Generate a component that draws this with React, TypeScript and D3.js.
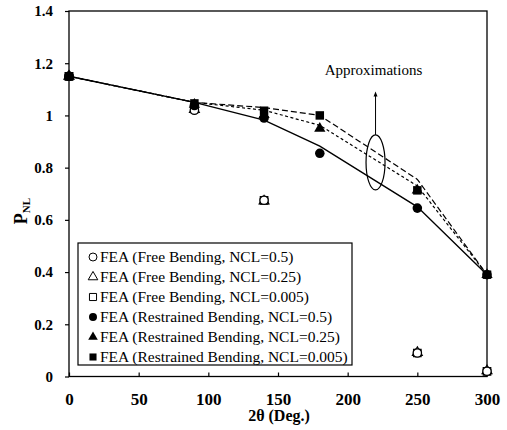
import * as d3 from 'd3'
import { useEffect, useRef } from 'react'

// 2θ values (degrees)
const angles = [0, 90, 140, 180, 250, 300]
const freeAngles = [0, 90, 140, 250, 300]

// FEA, free bending
const free05 = [1.15, 1.02, 0.675, 0.09, 0.02]
const free025 = [1.15, 1.022, 0.672, 0.092, 0.022]
const free0005 = [1.15, 1.025, 0.675, 0.09, 0.02]

// FEA, restrained bending
const restr05 = [1.15, 1.038, 0.99, 0.855, 0.645, 0.39]
const restr025 = [1.15, 1.042, 1.003, 0.95, 0.713, 0.39]
const restr0005 = [1.15, 1.046, 1.018, 1.0, 0.713, 0.39]

// approximation curves
const approxSolid = [1.15, 1.05, 0.982, 0.882, 0.65, 0.39]
const approxDotted = [1.15, 1.05, 1.02, 0.962, 0.73, 0.39]
const approxDashed = [1.15, 1.05, 1.03, 1.0, 0.755, 0.39]

const xTicks = [0, 50, 100, 150, 200, 250, 300]
const yTicks = [0, 0.2, 0.4, 0.6, 0.8, 1, 1.2, 1.4]

const legendLabels = [
    'FEA (Free Bending, NCL=0.5)',
    'FEA (Free Bending, NCL=0.25)',
    'FEA (Free Bending, NCL=0.005)',
    'FEA (Restrained Bending, NCL=0.5)',
    'FEA (Restrained Bending, NCL=0.25)',
    'FEA (Restrained Bending, NCL=0.005)',
]
const legendShapes = ['circle', 'triangle', 'square', 'circle', 'triangle', 'square']
const legendFilled = [false, false, false, true, true, true]

const FONT = '"Liberation Serif", "Times New Roman", serif'

export default function App() {
    const ref = useRef<SVGSVGElement>(null)

    useEffect(() => {
        const svg = d3.select(ref.current)
        svg.selectAll('*').remove()

        const x = d3.scaleLinear().domain([0, 300]).range([69, 487])
        const y = d3.scaleLinear().domain([0, 1.4]).range([376.5, 11])

        const symbolOf = (s: string, size: number) => {
            const t = s === 'circle' ? d3.symbolCircle : s === 'triangle' ? d3.symbolTriangle : d3.symbolSquare
            return d3.symbol().type(t).size(size)()
        }

        // frame
        svg.append('rect')
            .attr('x', x(0)).attr('y', y(1.4))
            .attr('width', x(300) - x(0)).attr('height', y(0) - y(1.4))
            .attr('fill', 'none').attr('stroke', '#000').attr('stroke-width', 1.3)

        // x axis
        const gx = svg.append('g')
            .attr('transform', `translate(0,${y(0)})`)
            .call(d3.axisBottom(x).tickValues(xTicks).tickSize(-4).tickPadding(16).tickSizeOuter(0))
        gx.select('.domain').remove()
        gx.selectAll('line').attr('stroke', '#000').attr('stroke-width', 1.2)
        gx.selectAll('text')
            .attr('font-family', FONT).attr('font-size', 17).attr('font-weight', 'bold').attr('fill', '#000')

        // y axis
        const gy = svg.append('g')
            .attr('transform', `translate(${x(0)},0)`)
            .call(d3.axisLeft(y).tickValues(yTicks).tickFormat(d3.format('~g')).tickSize(4).tickPadding(12).tickSizeOuter(0))
        gy.select('.domain').remove()
        gy.selectAll('line').attr('stroke', '#000').attr('stroke-width', 1.2)
        gy.selectAll('text')
            .attr('font-family', FONT).attr('font-size', 15).attr('font-weight', 'bold').attr('fill', '#000')

        // approximation lines
        const line = d3.line<number>().x((_, i) => x(angles[i])).y(d => y(d))
        const curves: [number[], string | null][] = [
            [approxSolid, null],
            [approxDotted, '3,2.5'],
            [approxDashed, '6,3'],
        ]
        curves.forEach(([vals, dash]) => {
            svg.append('path')
                .attr('d', line(vals))
                .attr('fill', 'none')
                .attr('stroke', '#000')
                .attr('stroke-width', dash ? 1.2 : 1.4)
                .attr('stroke-dasharray', dash)
        })

        // open markers (free bending)
        const freeSeries: [number[], string][] = [
            [free0005, 'square'], [free025, 'triangle'], [free05, 'circle'],
        ]
        freeSeries.forEach(([vals, shape]) => {
            svg.append('g').selectAll('path')
                .data(vals)
                .join('path')
                .attr('transform', (d, i) => `translate(${x(freeAngles[i])},${y(d)})`)
                .attr('d', symbolOf(shape, shape === 'triangle' ? 40 : 55))
                .attr('fill', '#fff').attr('stroke', '#000').attr('stroke-width', 1.3)
        })

        // filled markers (restrained bending)
        const restrSeries: [number[], string][] = [
            [restr05, 'circle'], [restr025, 'triangle'], [restr0005, 'square'],
        ]
        restrSeries.forEach(([vals, shape]) => {
            svg.append('g').selectAll('path')
                .data(vals)
                .join('path')
                .attr('transform', (d, i) => `translate(${x(angles[i])},${y(d)})`)
                .attr('d', symbolOf(shape, shape === 'triangle' ? 55 : 72))
                .attr('fill', '#000')
        })

        // annotation
        const ex = x(220), ey = y(0.82)
        svg.append('ellipse')
            .attr('cx', ex).attr('cy', ey).attr('rx', 9.5).attr('ry', 27.5)
            .attr('fill', 'none').attr('stroke', '#000').attr('stroke-width', 1.2)
        svg.append('line')
            .attr('x1', ex).attr('x2', ex).attr('y1', ey - 27.5).attr('y2', y(1.08))
            .attr('stroke', '#000').attr('stroke-width', 1)
        svg.append('path')
            .attr('d', `M${ex},${y(1.08) - 3} l-2,5 l4,0 z`)
            .attr('fill', '#000')
        svg.append('text')
            .attr('x', ex - 2).attr('y', y(1.155))
            .attr('text-anchor', 'middle')
            .attr('font-family', FONT).attr('font-size', 15)
            .text('Approximations')

        // legend
        const lg = svg.append('g').attr('transform', 'translate(78,243)')
        lg.append('rect')
            .attr('width', 274).attr('height', 122)
            .attr('fill', '#fff').attr('stroke', '#000').attr('stroke-width', 1.2)
        legendLabels.forEach((lab, i) => {
            const cy = 14 + i * 20
            lg.append('path')
                .attr('transform', `translate(15,${cy})`)
                .attr('d', symbolOf(legendShapes[i], legendShapes[i] === 'triangle' ? 40 : 50))
                .attr('fill', legendFilled[i] ? '#000' : '#fff')
                .attr('stroke', '#000').attr('stroke-width', legendFilled[i] ? 0 : 1)
            lg.append('text')
                .attr('x', 22).attr('y', cy + 5)
                .attr('font-family', FONT).attr('font-size', 15.5)
                .text(lab)
        })

        // axis titles
        svg.append('text')
            .attr('x', 279).attr('y', 421)
            .attr('text-anchor', 'middle')
            .attr('font-family', FONT).attr('font-size', 16).attr('font-weight', 'bold')
            .text('2θ (Deg.)')
        const yt = svg.append('text')
            .attr('transform', 'translate(27,211) rotate(-90)')
            .attr('text-anchor', 'middle')
            .attr('font-family', FONT).attr('font-size', 18).attr('font-weight', 'bold')
        yt.append('tspan').text('P')
        yt.append('tspan').attr('font-size', 11).attr('dy', 3).text('NL')
    }, [])

    return (
        <svg ref={ref} width={507} height={430}
            style={{ position: 'absolute', left: 0, top: 0, background: '#fff' }} />
    )
}
